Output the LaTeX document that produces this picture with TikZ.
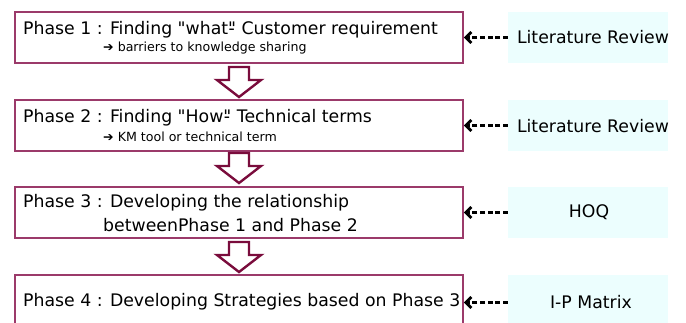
\documentclass[tikz,border=0pt]{standalone}
\usepackage{fontspec}
\setmainfont{DejaVu Sans}[Ligatures=TeXOff]
\usetikzlibrary{arrows.meta}
\definecolor{boxline}{HTML}{9B3A6A}
\definecolor{blockline}{HTML}{7A0C3C}
\definecolor{srcfill}{HTML}{ECFEFE}
\tikzset{
  phasebox/.style={draw=boxline, line width=1.6pt, fill=white, minimum width=448pt, inner sep=0pt},
  srcbox/.style={fill=srcfill, minimum width=160pt, inner sep=0pt},
  srctext/.style={inner sep=0pt, font=\fontsize{17.3}{19}\selectfont},
  title/.style={anchor=west, inner sep=0pt, font=\fontsize{17.3}{19}\selectfont},
  sub/.style={anchor=west, inner sep=0pt, font=\fontsize{12.6}{14}\selectfont},
  dasharrow/.style={line width=2.8pt, dash pattern=on 5pt off 2.6pt, -{Straight Barb[length=5.5pt,width=11pt]}},
  blockarrow/.style={draw=blockline, line width=2.4pt, fill=white, line join=miter}
}
% straight double quote, with an overlapping dash variant
\newcommand{\dq}{"}
\newcommand{\dqdash}{\rlap{\kern0.02em-}"}
% downward block arrow: centre x, top y
\newcommand{\downblock}[2]{%
  \draw[blockarrow] (#1-10,#2) -- (#1+10,#2) -- (#1+10,#2+13) -- (#1+22,#2+13)
    -- (#1,#2+30) -- (#1-22,#2+13) -- (#1-10,#2+13) -- cycle;}
\begin{document}
\begin{tikzpicture}[x=1pt,y=-1pt]
\useasboundingbox (0,0) rectangle (686,322);
\clip (0,0) rectangle (686,322);

% phase boxes
\node[phasebox, minimum height=51pt] (p1) at (239,37.5) {};
\node[phasebox, minimum height=51pt] (p2) at (239,125.5) {};
\node[phasebox, minimum height=51pt] (p3) at (239,212.5) {};
\node[phasebox, minimum height=55pt] (p4) at (239,302.5) {};

% phase texts
\node[title] (t1) at (23,30) {Phase 1 : Finding \dq what\dqdash\ Customer requirement};
\node[sub]   (s1) at (103,48) {➔ barriers to knowledge sharing};
\node[title] (t2) at (23,118) {Phase 2 : Finding \dq How\dqdash\ Technical terms};
\node[sub]   (s2) at (103,137) {➔ KM tool or technical term};
\node[title] (t3) at (23,203) {Phase 3 : Developing the relationship};
\node[title] (t3b) at (103,225) {betweenPhase 1 and Phase 2};
\node[title] (t4) at (23,302) {Phase 4 : Developing Strategies based on Phase 3};

% block arrows between phases
\downblock{239}{67}
\downblock{239}{153}
\downblock{239}{242}

% sources
\node[srcbox, minimum height=51pt] (r1) at (588,37.5) {};
\node[srcbox, minimum height=51pt] (r2) at (588,125.5) {};
\node[srcbox, minimum height=51pt] (r3) at (588,212.5) {};
\node[srcbox, minimum height=55pt] (r4) at (588,302.5) {};
\node[srctext] (l1) at (593,37) {Literature Review};
\node[srctext] (l2) at (593,126) {Literature Review};
\node[srctext] (l3) at (589,212.5) {HOQ};
\node[srctext] (l4) at (591,302) {I-P Matrix};

% dashed inputs
\draw[dasharrow] (r1.west) -- (p1.east);
\draw[dasharrow] (r2.west) -- (p2.east);
\draw[dasharrow] (r3.west) -- (p3.east);
\draw[dasharrow] (r4.west) -- (p4.east);
\end{tikzpicture}
\end{document}
